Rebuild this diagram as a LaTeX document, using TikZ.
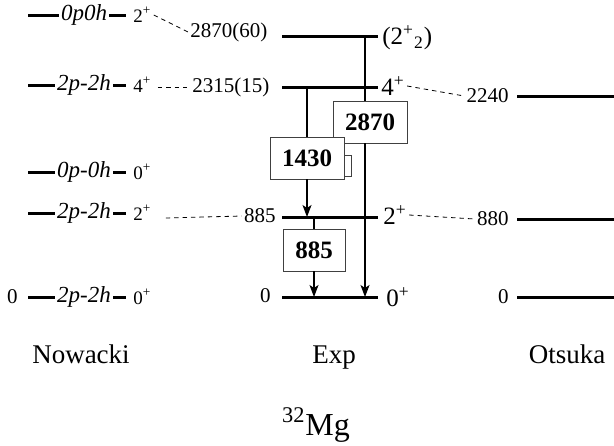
\documentclass[tikz,border=0pt]{standalone}
\usepackage{fontspec}
\setmainfont{Liberation Serif}
\usetikzlibrary{arrows.meta}

\begin{document}
\begin{tikzpicture}[x=0.5pt, y=-0.5pt,
  level/.style={line width=1.5pt},
  cfg/.style={fill=white, inner sep=1pt, font=\fontsize{11.5}{13}\selectfont\itshape},
  spin/.style={inner sep=1pt, font=\fontsize{9.5}{11}\selectfont},
  espin/.style={inner sep=1pt, font=\fontsize{12.5}{14}\selectfont},
  energy/.style={inner sep=1pt, font=\fontsize{10.5}{12}\selectfont},
  link/.style={thin, dash pattern=on 2.2pt off 2pt},
  gbox/.style={draw=black!75, fill=white, thin, minimum width=37pt, minimum height=21pt,
    inner sep=0pt, font=\fontsize{12.5}{14}\selectfont\bfseries},
  gamma/.style={-{Stealth[length=6pt, width=4.5pt, inset=1.5pt]}, semithick},
  title/.style={anchor=base, font=\fontsize{13.5}{16}\selectfont}]

  \useasboundingbox (0,0) rectangle (614,445);

  %% Nowacki: configurations and spins
  \foreach \y/\c/\s/\n in {15/0p0h/2/a, 85/2p-2h/4/b, 172/0p-0h/0/c, 213/2p-2h/2/d, 297/2p-2h/0/e} {
    \draw[level] (28,\y) -- (126,\y);
    \node[cfg] at (84,\y) {\c};
    \node[spin, anchor=west] (nw\n) at (131,\y) {\s\textsuperscript{+}};
  }
  \node[energy, anchor=east] (nw0) at (20,297) {0};

  %% Exp: levels
  \draw[level] (282,36) -- (378,36);
  \draw[level] (282,87) -- (378,87);
  \draw[level] (282,217) -- (378,217);
  \draw[level] (282,297) -- (378,297);
  \node[energy, anchor=west] (e2870) at (188,32) {2870(60)};
  \node[energy, anchor=west] (e2315) at (190,87) {2315(15)};
  \node[energy, anchor=east] (e885) at (278,216) {885};
  \node[energy, anchor=east] (e0) at (273,296) {0};
  \node[espin, anchor=west] (s2870) at (380,38) {(2\textsuperscript{+}\textsubscript{2})};
  \node[espin, anchor=west] (s2315) at (379,86) {4\textsuperscript{+}};
  \node[espin, anchor=west] (s885) at (381,215) {2\textsuperscript{+}};
  \node[espin, anchor=west] (s0) at (384,297) {0\textsuperscript{+}};

  %% Otsuka: levels
  \draw[level] (517,96) -- (614,96);
  \draw[level] (517,219) -- (614,219);
  \draw[level] (517,297) -- (614,297);
  \node[energy, anchor=east] (o2240) at (511,96) {2240};
  \node[energy, anchor=east] (o880) at (511,219) {880};
  \node[energy, anchor=east] (o0) at (511,297) {0};

  %% dashed correspondences
  \draw[link] (nwa.east) -- (e2870.west);
  \draw[link] (nwb.east) ++(4,2) -- (e2315.west);
  \draw[link] (nwd.east) ++(12,5) -- (e885.west);
  \draw[link] (s2315.east) -- (o2240.west);
  \draw[link] (s885.east) -- (o880.west);

  %% gamma transitions
  \node[gbox] (b2870) at (370,122) {2870};
  \node[gbox] (b1430) at (307,158) {1430};
  \node[gbox, minimum width=31pt] (b885) at (314,250) {885};
  \draw[black!75] (b1430.east |- 0,155) -- (351,155) -- (351,176) -- (b1430.east |- 0,176);

  \draw[semithick] (365,36) -- (365,101);
  \draw[gamma] (365,143) -- (365,297);
  \draw[semithick] (307,87) -- (b1430.north);
  \draw[gamma] (b1430.south) -- (307,217);
  \draw[semithick] (314,217) -- (b885.north);
  \draw[gamma] (b885.south) -- (314,297);

  %% column titles
  \node[title] (tnow) at (81,363) {Nowacki};
  \node[title] (texp) at (334,363) {Exp};
  \node[title] (tots) at (567,363) {Otsuka};
  \node[anchor=base, font=\fontsize{16}{18}\selectfont] (tnuc) at (316,435) {\textsuperscript{32}Mg};

\end{tikzpicture}
\end{document}
